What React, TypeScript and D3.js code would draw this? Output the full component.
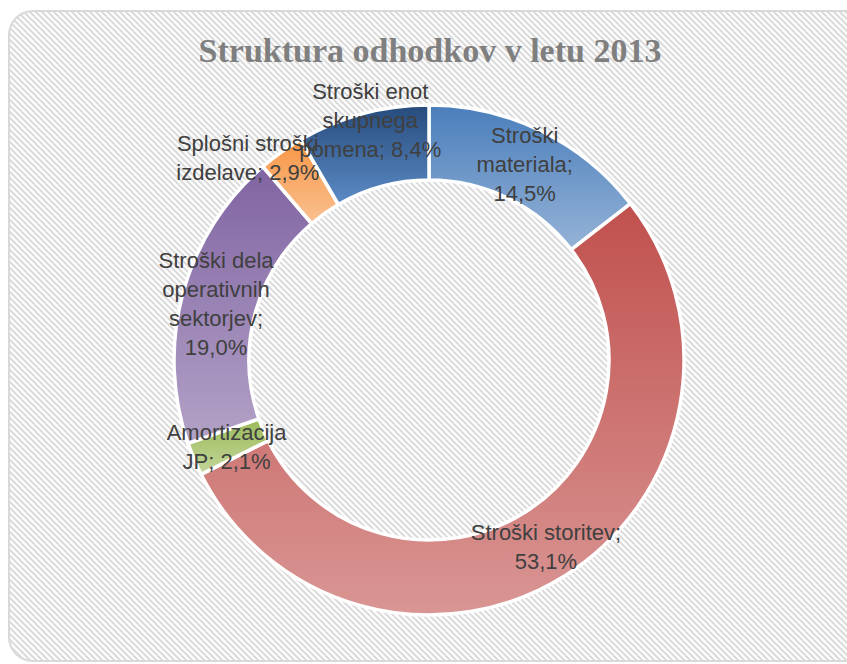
import React, { useEffect } from 'react';
import * as d3 from 'd3';

const title = "Struktura odhodkov v letu 2013";
const categories = [
  "Stroški materiala",
  "Stroški storitev",
  "Amortizacija JP",
  "Stroški dela operativnih sektorjev",
  "Splošni stroški izdelave",
  "Stroški enot skupnega pomena",
];
const values = [14.5, 53.1, 2.1, 19.0, 2.9, 8.4];
const topColors = ["#4a7ebb", "#c0504d", "#9bbb59", "#8064a2", "#f79646", "#264b7b"];
const bottomColors = ["#95b3d7", "#d99694", "#c3d69b", "#b3a2c7", "#fac090", "#5c8bc6"];
const wordsPerLine = [[1, 1, 1], [2, 1], [1, 2], [2, 1, 1, 1], [2, 2], [2, 1, 2]];
const labelNudge = [[0, 0], [1, 3], [-2, 2], [-3, 1], [-55, -25], [-2, -30]];

const W = 847;
const H = 664;
const cx = 429;
const cy = 360;
const rOuter = 255;
const rInner = 180;
const lineH = 29;

const fmt = (v: number) => v.toFixed(1).replace('.', ',') + '%';

function labelLines(i: number): string[] {
  const words = `${categories[i]}; ${fmt(values[i])}`.split(' ');
  const out: string[] = [];
  let k = 0;
  for (const n of wordsPerLine[i]) {
    out.push(words.slice(k, k + n).join(' '));
    k += n;
  }
  return out;
}

export default function App() {
  useEffect(() => {
    document.body.style.margin = '0';
    document.body.style.overflow = 'hidden';
  }, []);

  const data = values.map((v, i) => ({ v, i }));
  const pie = d3.pie<{ v: number; i: number }>().sort(null).value(d => d.v).startAngle(0).endAngle(2 * Math.PI);
  const arcs = pie(data);
  const arc = d3.arc<d3.PieArcDatum<{ v: number; i: number }>>().innerRadius(rInner).outerRadius(rOuter);
  const labelArc = d3.arc<d3.PieArcDatum<{ v: number; i: number }>>().innerRadius((rInner + rOuter) / 2).outerRadius((rInner + rOuter) / 2);

  return (
    <svg width={W} height={H} style={{ position: 'absolute', left: 0, top: 0, display: 'block' }}>
      <defs>
        <pattern id="bgpat" patternUnits="userSpaceOnUse" width="6" height="6">
          <rect width="6" height="6" fill="#ffffff" />
          <path d="M-1,-1 L7,7 M-1,5 L1,7 M5,-1 L7,1" stroke="#dcdcdc" strokeWidth="2.2" />
        </pattern>
        {arcs.map((a, k) => (
          <linearGradient key={k} id={`g${k}`} x1="0" y1="0" x2="0" y2="1">
            <stop offset="0" stopColor={topColors[a.data.i]} />
            <stop offset="1" stopColor={bottomColors[a.data.i]} />
          </linearGradient>
        ))}
      </defs>
      <rect x={9} y={11} width={870} height={650} rx={24} ry={24} fill="url(#bgpat)" stroke="#d9d9d9" strokeWidth={2} />
      <text x={430} y={62} textAnchor="middle" fontFamily="'Liberation Serif', serif" fontWeight="bold" fontSize={34} fill="#7f7f7f">
        {title}
      </text>
      <g transform={`translate(${cx},${cy})`}>
        {arcs.map((a, k) => (
          <path key={k} d={arc(a) || ''} fill={`url(#g${k})`} stroke="#ffffff" strokeWidth={3.5} strokeLinejoin="round" />
        ))}
        {arcs.map((a, k) => {
          const [lx, ly] = labelArc.centroid(a);
          const lines = labelLines(a.data.i);
          const x = lx + labelNudge[a.data.i][0];
          const y = ly + labelNudge[a.data.i][1];
          return (
            <text key={k} textAnchor="middle" fontFamily="'Liberation Sans', Arial, sans-serif" fontSize={22} fill="#404040">
              {lines.map((t, j) => (
                <tspan key={j} x={x} y={y + (j - (lines.length - 1) / 2) * lineH} dy="0.35em">{t}</tspan>
              ))}
            </text>
          );
        })}
      </g>
    </svg>
  );
}
